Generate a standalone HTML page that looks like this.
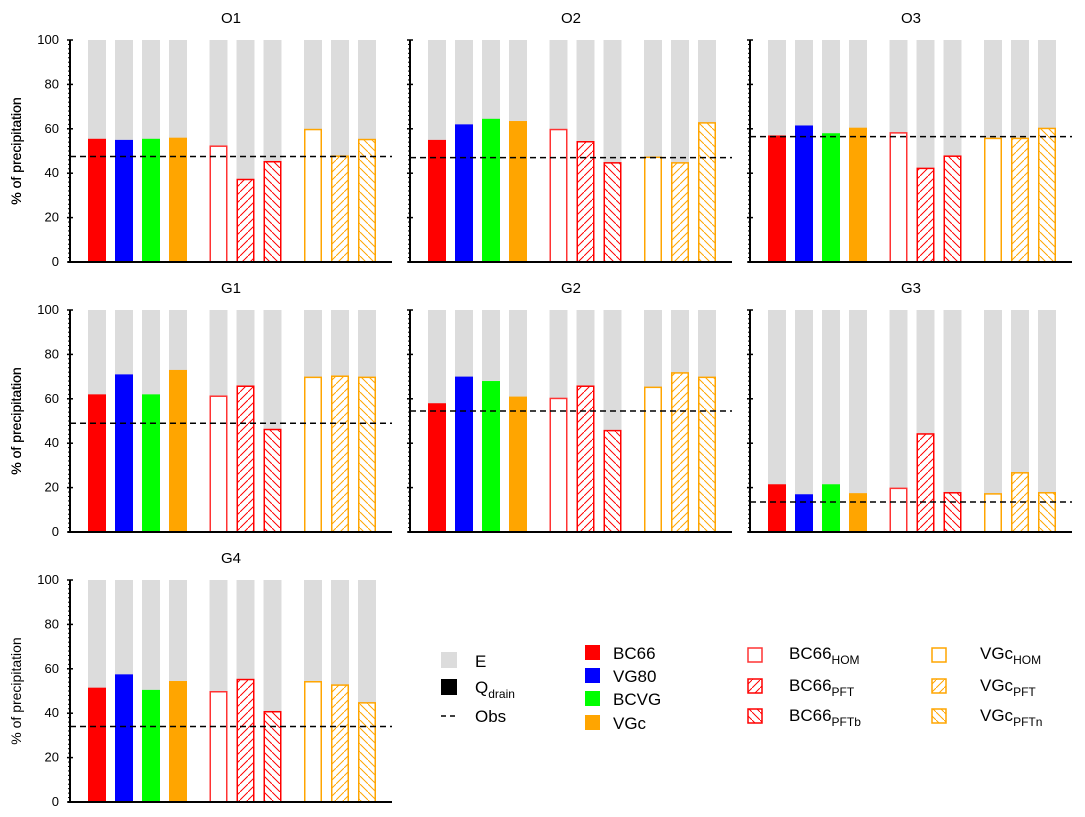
<!DOCTYPE html>
<html><head><meta charset="utf-8">
<style>
body{margin:0;background:#fff;}
svg{display:block;font-family:"Liberation Sans",sans-serif;}
</style></head>
<body>
<svg id="chart" width="1085" height="817" xmlns="http://www.w3.org/2000/svg">
<defs>
<pattern id="hr-f" patternUnits="userSpaceOnUse" width="8" height="8"><rect width="8" height="8" fill="#fff"/><path d="M-1,9 L9,-1" stroke="#f00" stroke-width="1"/></pattern>
<pattern id="hr-b" patternUnits="userSpaceOnUse" width="8" height="8"><rect width="8" height="8" fill="#fff"/><path d="M-1,-1 L9,9" stroke="#f00" stroke-width="1"/></pattern>
<pattern id="ho-f" patternUnits="userSpaceOnUse" width="8" height="8"><rect width="8" height="8" fill="#fff"/><path d="M-1,9 L9,-1" stroke="#ffa500" stroke-width="1"/></pattern>
<pattern id="ho-b" patternUnits="userSpaceOnUse" width="8" height="8"><rect width="8" height="8" fill="#fff"/><path d="M-1,-1 L9,9" stroke="#ffa500" stroke-width="1"/></pattern>
</defs>
<g id="panels"></g>
<g id="legend" font-size="17">
  <g><rect x="441" y="652" width="16" height="16" fill="#dcdcdc"/><text x="475" y="667">E</text></g>
  <g><rect x="441" y="679" width="16" height="16" fill="#000"/><text x="475" y="693">Q<tspan font-size="12" dy="5">drain</tspan></text></g>
  <g><line x1="441" y1="716" x2="458" y2="716" stroke="#000" stroke-width="1.5" stroke-dasharray="5,4"/><text x="475" y="722">Obs</text></g>
  <g><rect x="585" y="645" width="15" height="15" fill="#f00"/><text x="613" y="659">BC66</text></g>
  <g><rect x="585" y="668" width="15" height="15" fill="#00f"/><text x="613" y="682">VG80</text></g>
  <g><rect x="585" y="691" width="15" height="15" fill="#0f0"/><text x="613" y="705">BCVG</text></g>
  <g><rect x="585" y="715" width="15" height="15" fill="#ffa500"/><text x="613" y="729">VGc</text></g>
  <g><rect x="748" y="648" width="14" height="14" fill="#fff" stroke="#f33" stroke-width="1.5"/><text x="789" y="659">BC66<tspan font-size="12" dy="5">HOM</tspan></text></g>
  <g><rect x="748" y="679" width="14" height="14" fill="url(#hr-f)" stroke="#f00" stroke-width="1.5"/><text x="789" y="691">BC66<tspan font-size="12" dy="5">PFT</tspan></text></g>
  <g><rect x="748" y="709" width="14" height="14" fill="url(#hr-b)" stroke="#f00" stroke-width="1.5"/><text x="789" y="721">BC66<tspan font-size="12" dy="5">PFTb</tspan></text></g>
  <g><rect x="932" y="648" width="14" height="14" fill="#fff" stroke="#ffa500" stroke-width="1.5"/><text x="980" y="659">VGc<tspan font-size="12" dy="5">HOM</tspan></text></g>
  <g><rect x="932" y="679" width="14" height="14" fill="url(#ho-f)" stroke="#ffa500" stroke-width="1.5"/><text x="980" y="691">VGc<tspan font-size="12" dy="5">PFT</tspan></text></g>
  <g><rect x="932" y="709" width="14" height="14" fill="url(#ho-b)" stroke="#ffa500" stroke-width="1.5"/><text x="980" y="721">VGc<tspan font-size="12" dy="5">PFTn</tspan></text></g>
</g>
</svg>
<script>
const panelNames = ["O1","O2","O3","G1","G2","G3","G4"];
const models = ["BC66","VG80","BCVG","VGc","BC66_HOM","BC66_PFT","BC66_PFTb","VGc_HOM","VGc_PFT","VGc_PFTn"];
const slots = [0,1,2,3,4.5,5.5,6.5,8,9,10];
const valsO1 = [55.5,55,55.5,56,52.5,37.5,45.5,60,48,55.5];
const valsO2 = [55,62,64.5,63.5,60,54.5,45,47.5,45,63];
const valsO3 = [57,61.5,58,60.5,58.5,42.5,48,56,56,60.5];
const valsG1 = [62,71,62,73,61.5,66,46.5,70,70.5,70];
const valsG2 = [58,70,68,61,60.5,66,46,65.5,72,70];
const valsG3 = [21.5,17,21.5,17.5,20,44.5,18,17.5,27,18];
const valsG4 = [51.5,57.5,50.5,54.5,50,55.5,41,54.5,53,45];
const obsValues = [47.5,47,56.5,49,54.5,13.5,34];
const yTicks = [0,20,40,60,80,100];
const allVals = [valsO1,valsO2,valsO3,valsG1,valsG2,valsG3,valsG4];

const styles = [
 {fill:"#f00"},{fill:"#00f"},{fill:"#0f0"},{fill:"#ffa500"},
 {fill:"#fff",stroke:"#f33"},{fill:"url(#hr-f)",stroke:"#f00"},{fill:"url(#hr-b)",stroke:"#f00"},
 {fill:"#fff",stroke:"#ffa500"},{fill:"url(#ho-f)",stroke:"#ffa500"},{fill:"url(#ho-b)",stroke:"#ffa500"}
];
const NS="http://www.w3.org/2000/svg";
const root=document.getElementById("panels");
function mk(tag,attrs,parent){const e=document.createElementNS(NS,tag);for(const k in attrs)e.setAttribute(k,attrs[k]);parent.appendChild(e);return e;}
const axisX=[70,410,750], baseY=[262,532,802], W=322, H=222, BW=18;
panelNames.forEach((name,p)=>{
  const ax=axisX[p%3], by=baseY[Math.floor(p/3)];
  const ys=v=>by-v/100*H;
  const xs=s=>ax+18+s*27;
  const g=mk("g",{},root);
  
  
  const t=mk("text",{x:ax+W/2,y:by-H-17,"text-anchor":"middle","font-size":"15"},g);t.textContent=name;
  
  
  const yl=mk("text",{transform:`translate(21,${by-H/2}) rotate(-90)`,"text-anchor":"middle","font-size":"14"},g);yl.textContent="% of precipitation";
  
  
  models.forEach((m,i)=>{
    const x=xs(slots[i]);
    const e=mk("rect",{x:x,y:ys(100),width:BW,height:H,fill:"#dcdcdc"},g);
    
    
    const v=allVals[p][i], st=styles[i];
    const r=mk("rect",{x:st.stroke?x+0.75:x,y:ys(v)+(st.stroke?0.75:0),width:st.stroke?BW-1.5:BW,height:by-ys(v)-(st.stroke?0.75:0),fill:st.fill},g);
    if(st.stroke){r.setAttribute("stroke",st.stroke);r.setAttribute("stroke-width","1.5");}
    
    
  });
  const ob=mk("line",{x1:ax,x2:ax+W,y1:ys(obsValues[p]),y2:ys(obsValues[p]),stroke:"#000","stroke-width":"1.5","stroke-dasharray":"6,4"},g);
  
  
  const ya=mk("line",{x1:ax,x2:ax,y1:ys(100),y2:by,stroke:"#000","stroke-width":"2"},g);
  
  
  const xa=mk("line",{x1:ax-2,x2:ax+W,y1:by,y2:by,stroke:"#000","stroke-width":"2"},g);
  
  
  for(let v=0;v<=100;v+=2){mk("line",{x1:ax-2,x2:ax,y1:ys(v),y2:ys(v),stroke:"#000","stroke-width":"1"},g);}
  yTicks.forEach(v=>{
    mk("line",{x1:ax-3,x2:ax+3,y1:ys(v),y2:ys(v),stroke:"#000","stroke-width":"1.5"},g);
    if(p%3===0){const tl=mk("text",{x:ax-11,y:ys(v)+4,"text-anchor":"end","font-size":"13"},g);tl.textContent=v;
      
      }
  });
});
</script>
</body></html>
